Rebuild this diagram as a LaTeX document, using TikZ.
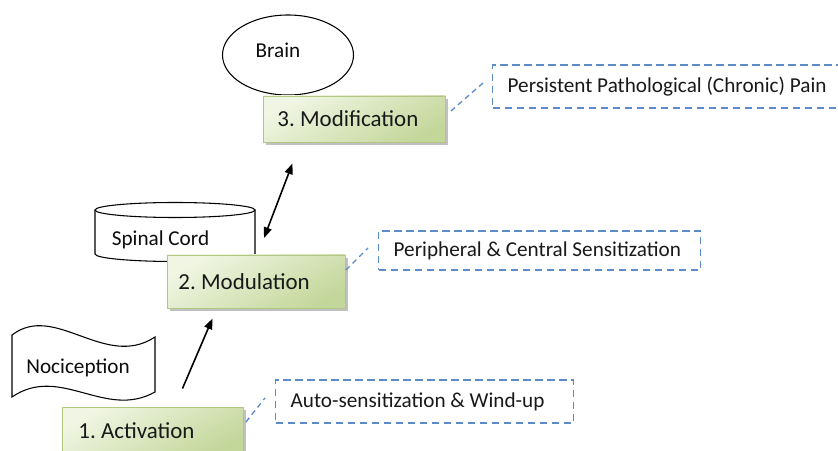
\documentclass[tikz,border=0pt]{standalone}
\usepackage{fontspec}
\setmainfont{Carlito}
\usetikzlibrary{calc,shadows,arrows.meta,shapes.geometric}
\definecolor{gLight}{HTML}{F1F6E4}
\definecolor{gDark}{HTML}{C4D79B}
\definecolor{gBorder}{HTML}{B3C785}
\definecolor{cBlue}{HTML}{5B8BC9}
\frenchspacing
\begin{document}
\begin{tikzpicture}[x=0.75pt,y=0.75pt,
  greenbox/.style={draw=gBorder, line width=0.7pt, top color=gLight, bottom color=gDark, shading angle=30,
    anchor=west, font=\fontsize{17.2}{20}\selectfont, text=black!90,
    drop shadow={shadow xshift=2.2pt, shadow yshift=-2.6pt, fill=black!45, opacity=0.55}},
  callout/.style={draw=cBlue, line width=1pt, dash pattern=on 5.5pt off 3.5pt, anchor=west,
    inner xsep=11.25pt, font=\fontsize{15.9}{19}\selectfont, text=black!90},
  link/.style={draw=cBlue, line width=1pt, dash pattern=on 4pt off 3pt},
  plain/.style={font=\fontsize{15.9}{19}\selectfont, text=black!95},
  arr/.style={line width=1.2pt, -{Triangle[length=8pt,width=6pt]}},
  dblarr/.style={line width=1.2pt, {Triangle[length=8pt,width=6pt]}-{Triangle[length=8pt,width=6pt]}}
]
\useasboundingbox (0,0) rectangle (838,450);
\clip (0,0) rectangle (838,450);

% Brain
\node[draw, ellipse, line width=0.8pt, minimum width=98.25pt, minimum height=60pt, inner sep=0pt] (brain) at (288,395) {};
\node[plain] (braint) at (278,400) {Brain};

% Spinal cord cylinder
\draw[line width=0.8pt, fill=white] (95,240) -- (95,196) arc[start angle=180,end angle=360,x radius=60pt,y radius=5.625pt] -- (255,240);
\draw[line width=0.8pt, fill=white] (175,240) ellipse[x radius=60pt, y radius=5.625pt];
\node[plain] (spinal) at (160.5,210) {Spinal Cord};

% Green boxes
\node[greenbox, inner xsep=10.5pt, minimum height=34.5pt] (modif) at (263,331) {\makebox[115.5pt][l]{3. Modification}};
\node[greenbox, inner xsep=8.25pt, minimum height=39.75pt] (modul) at (167,168.5) {\makebox[117pt][l]{2. Modulation}};
\node[greenbox, inner xsep=12pt, minimum height=36pt] (act) at (62,19) {\makebox[111.75pt][l]{1. Activation}};

% Nociception tape
\draw[line width=0.8pt, fill=white] (12,115) .. controls (55,148) and (105,80) .. (155,113) -- (155,58) .. controls (105,30) and (60,86) .. (12,53) -- cycle;
\node[plain] (noc) at (78,82) {Nociception};

% Callouts
\node[callout, minimum height=32.25pt] (c1) at (492,363.5) {\makebox[255pt][l]{Persistent Pathological (Chronic) Pain}};
\node[callout, minimum height=29.25pt] (c2) at (378,199.5) {\makebox[219pt][l]{Peripheral \& Central Sensitization}};
\node[callout, minimum height=32.25pt] (c3) at (275,48.5) {\makebox[201pt][l]{Auto-sensitization \& Wind-up}};

% Links
\draw[link] ($(modif.east)+(5,8)$) -- ($(c1.west)+(-9,3.5)$);
\draw[link] ($(modul.east)+(0,11.5)$) -- ($(c2.west)+(-10,2.5)$);
\draw[link] ($(act.east)+(2,9)$) -- ($(c3.west)+(-10,3.5)$);

% Arrows
\coordinate (scend) at (264,212);
\draw[dblarr] ($(modif.south)+(-62,-21)$) -- (scend);
\draw[arr] ($(act.north)+(29.5,18)$) -- ($(modul.south)+(-44,-10)$);
\end{tikzpicture}
\end{document}
